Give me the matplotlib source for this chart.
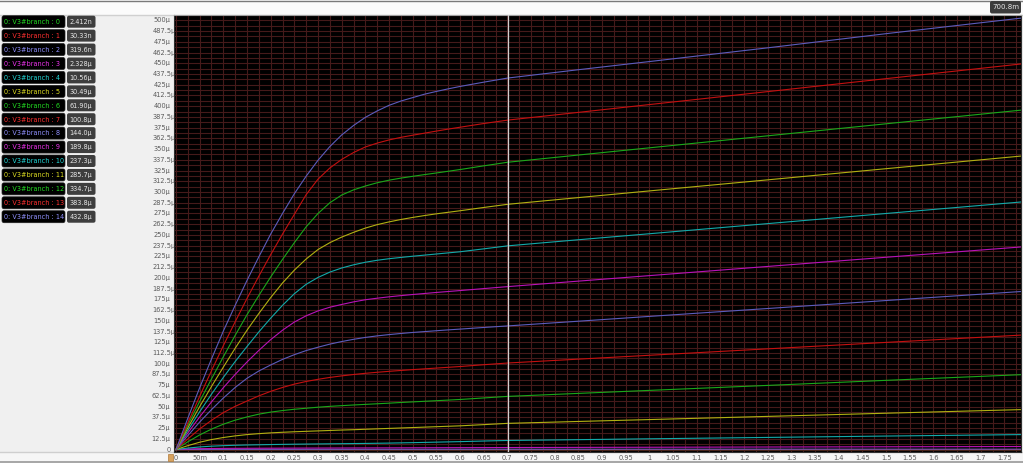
import matplotlib
matplotlib.use("Agg")
import matplotlib.pyplot as plt
from matplotlib.patches import FancyBboxPatch, Rectangle
from matplotlib.lines import Line2D
from matplotlib.transforms import Bbox, TransformedBbox, IdentityTransform, blended_transform_factory

# ---------------- data (currents in µA) ----------------
vds = [0, 0.025, 0.05, 0.075, 0.1, 0.125, 0.15, 0.175, 0.2, 0.225, 0.25, 0.275, 0.3, 0.325,
       0.35, 0.375, 0.4, 0.425, 0.45, 0.475, 0.5, 0.525, 0.55, 0.575, 0.6, 0.65, 0.7008,
       0.85, 1.0, 1.25, 1.5, 1.785]

i_b0 = [0, 0.0009, 0.0015, 0.0017, 0.0019, 0.0020, 0.0020, 0.0021, 0.0021, 0.0021, 0.0021,
        0.0022, 0.0022, 0.0022, 0.0022, 0.0023, 0.0023, 0.0023, 0.0023, 0.0023, 0.0023,
        0.0024, 0.0024, 0.0024, 0.0024, 0.0024, 0.002412, 0.0025, 0.0026, 0.0027, 0.0028, 0.0029]
i_b1 = [0, 0.011, 0.018, 0.020, 0.022, 0.023, 0.024, 0.0245, 0.025, 0.0255, 0.026, 0.0265,
        0.027, 0.0275, 0.028, 0.0282, 0.0285, 0.0288, 0.029, 0.0292, 0.0295, 0.0297, 0.0299,
        0.030, 0.0301, 0.0302, 0.03033, 0.031, 0.032, 0.033, 0.034, 0.035]
i_b2 = [0, 0.09, 0.15, 0.18, 0.20, 0.21, 0.22, 0.228, 0.235, 0.24, 0.245, 0.25, 0.255, 0.26,
        0.265, 0.268, 0.272, 0.276, 0.28, 0.284, 0.287, 0.291, 0.295, 0.299, 0.303, 0.311,
        0.3196, 0.33, 0.34, 0.36, 0.38, 0.40]
i_b3 = [0, 0.6, 1.0, 1.18, 1.3, 1.38, 1.45, 1.5, 1.55, 1.6, 1.65, 1.69, 1.72, 1.76, 1.8, 1.84,
        1.88, 1.92, 1.96, 2.0, 2.04, 2.08, 2.11, 2.15, 2.18, 2.25, 2.328, 2.5, 2.65, 2.95, 3.2, 3.5]
i_b4 = [0, 1.7, 3.0, 3.9, 4.5, 4.95, 5.3, 5.55, 5.8, 6.0, 6.2, 6.35, 6.5, 6.65, 6.8, 6.95, 7.1,
        7.3, 7.5, 7.75, 8.0, 8.3, 8.6, 8.9, 9.2, 9.9, 10.56, 11.5, 12.5, 14.1, 15.7, 17.4]
i_b5 = [0, 4.5, 8.5, 11.6, 14.0, 15.9, 17.4, 18.5, 19.4, 20.1, 20.7, 21.2, 21.7, 22.2, 22.7,
        23.1, 23.6, 24.1, 24.6, 25.1, 25.6, 26.1, 26.6, 27.1, 27.6, 29.0, 30.49, 32.7, 34.9,
        38.6, 42.3, 46.5]
i_b6 = [0, 9.0, 17.0, 23.8, 29.5, 34.2, 38.0, 41.2, 43.6, 45.4, 46.9, 48.1, 49.3, 50.3, 51.1,
        51.9, 52.6, 53.3, 54.0, 54.8, 55.5, 56.2, 56.9, 57.6, 58.3, 60.1, 61.90, 65.4, 68.9,
        74.7, 80.6, 87.2]
i_b7 = [0, 12.3, 24.0, 34.0, 43.0, 50.3, 56.5, 62.5, 67.8, 72.3, 76.2, 79.3, 81.8, 84.0, 85.8,
        87.4, 88.8, 90.0, 91.1, 92.1, 93.1, 94.0, 94.9, 95.8, 96.7, 98.8, 100.8, 105.3, 109.8,
        117.3, 124.8, 133.3]
i_b8 = [0, 16.2, 32.0, 46.5, 60.0, 72.3, 83.0, 91.5, 98.5, 105.0, 110.5, 115.3, 119.2, 122.8,
        125.8, 128.4, 130.6, 132.4, 133.9, 135.2, 136.4, 137.4, 138.4, 139.4, 140.3, 142.2,
        144.0, 149.5, 155.1, 164.3, 173.6, 184.1]
i_b9 = [0, 19.3, 38.0, 55.5, 72.0, 87.5, 102.0, 115.5, 128.0, 139.0, 148.5, 155.8, 161.5,
        165.8, 169.0, 172.0, 174.5, 176.3, 177.9, 179.3, 180.6, 181.8, 183.0, 184.1, 185.2,
        187.5, 189.8, 196.2, 202.6, 213.3, 224.0, 236.0]
i_b10 = [0, 22.3, 44.0, 64.5, 84.0, 102.5, 120.0, 137.0, 153.0, 168.0, 181.5, 192.5, 200.5,
         206.7, 211.5, 215.2, 218.2, 220.5, 222.3, 223.8, 225.2, 226.5, 227.8, 229.1, 230.4,
         233.8, 237.3, 244.4, 251.4, 263.2, 275.0, 288.4]
i_b11 = [0, 25.3, 50.0, 73.5, 96.0, 118.0, 139.0, 158.5, 177.0, 194.0, 209.0, 222.0, 233.0,
         241.0, 247.5, 253.0, 258.0, 262.0, 265.2, 268.0, 270.4, 272.6, 274.6, 276.4, 278.2,
         282.0, 285.7, 293.5, 301.3, 314.2, 327.2, 341.9]
i_b12 = [0, 28.3, 56.0, 82.3, 108.0, 133.0, 157.0, 179.5, 201.0, 221.5, 241.0, 259.5, 275.0,
         287.5, 296.5, 302.5, 307.0, 310.8, 313.8, 316.2, 318.3, 320.3, 322.2, 324.2, 326.2,
         330.5, 334.7, 343.1, 351.5, 365.5, 379.5, 395.4]
i_b13 = [0, 31.2, 62.0, 91.8, 121.0, 148.8, 176.0, 202.0, 227.0, 251.0, 274.0, 297.0, 315.0,
         328.0, 338.0, 346.0, 352.5, 357.0, 360.7, 363.7, 366.2, 368.6, 371.0, 373.3, 375.5,
         379.8, 383.8, 392.8, 401.9, 417.0, 432.1, 449.2]
i_b14 = [0, 36.5, 72.0, 105.5, 138.0, 168.0, 197.0, 224.5, 251.0, 275.0, 298.0, 318.5, 337.0,
         353.0, 366.5, 377.5, 387.0, 394.5, 401.0, 406.0, 410.0, 414.0, 417.2, 420.2, 423.0,
         428.0, 432.8, 442.5, 452.0, 468.0, 484.5, 502.6]

series = [i_b0, i_b1, i_b2, i_b3, i_b4, i_b5, i_b6, i_b7, i_b8, i_b9,
          i_b10, i_b11, i_b12, i_b13, i_b14]

legend_names = ["0: V3#branch : %d" % k for k in range(15)]
legend_values = ["2.412n", "30.33n", "319.6n", "2.328µ", "10.56µ", "30.49µ", "61.90µ",
                 "100.8µ", "144.0µ", "189.8µ", "237.3µ", "285.7µ", "334.7µ", "383.8µ", "432.8µ"]

x_tick_pos = [0.05 * k for k in range(36)]
x_tick_labels = ["0", "50m", "0.1", "0.15", "0.2", "0.25", "0.3", "0.35", "0.4", "0.45",
                 "0.5", "0.55", "0.6", "0.65", "0.7", "0.75", "0.8", "0.85", "0.9", "0.95",
                 "1", "1.05", "1.1", "1.15", "1.2", "1.25", "1.3", "1.35", "1.4", "1.45",
                 "1.5", "1.55", "1.6", "1.65", "1.7", "1.75"]
y_tick_pos = [12.5 * k for k in range(41)]
y_tick_labels = ["0", "12.5µ", "25µ", "37.5µ", "50µ", "62.5µ", "75µ", "87.5µ", "100µ",
                 "112.5µ", "125µ", "137.5µ", "150µ", "162.5µ", "175µ", "187.5µ", "200µ",
                 "212.5µ", "225µ", "237.5µ", "250µ", "262.5µ", "275µ", "287.5µ", "300µ",
                 "312.5µ", "325µ", "337.5µ", "350µ", "362.5µ", "375µ", "387.5µ", "400µ",
                 "412.5µ", "425µ", "437.5µ", "450µ", "462.5µ", "475µ", "487.5µ", "500µ"]

cursor_x = 0.7008
cursor_label = "700.8m"

# ---------------- styles ----------------
curve_colors = ["#1aa81a", "#c41010", "#5c5cbc", "#b812b8", "#12aaaa", "#b0b012"]
text_colors = ["#22dd22", "#ff3030", "#9090ff", "#ee33ee", "#22d8d8", "#dede22"]
grid_color = "#451a1a"
label_color = "#5a5a5a"
FS = 4.8
LFS = 4.7

W, H = 1023, 463
fig = plt.figure(figsize=(W / 100, H / 100), dpi=100, facecolor="#f0f0f0")
ID = IdentityTransform()


def prect(x0, y0, x1, y1, **kw):
    """rectangle in image pixel coords (y downwards)"""
    return Rectangle((x0, H - y1), x1 - x0, y1 - y0, transform=ID, **kw)


# background strips (behind the axes)
fig.patches.append(prect(0, 0, W, 14.5, facecolor="#fbfbfb", edgecolor="none", zorder=-5))
fig.patches.append(prect(0, 452, W, 461, facecolor="#f6f6f6", edgecolor="none", zorder=-5))
fig.patches.append(prect(0, 461, W, H, facecolor="#a8a8a8", edgecolor="none", zorder=-5))
fig.lines.append(Line2D([0, W], [H - 0.5, H - 0.5], transform=ID, color="#7a7a7a", lw=1.0, zorder=-4))
fig.lines.append(Line2D([0, W], [H - 14.5, H - 14.5], transform=ID, color="#d0d0d0", lw=1.0, zorder=-4))
fig.lines.append(Line2D([0, W], [H - 452, H - 452], transform=ID, color="#cfcfcf", lw=1.0, zorder=-4))

# ---------------- plot ----------------
ax_l, ax_r, ax_t, ax_b = 174, 1021, 15, 451.5
ax = fig.add_axes([ax_l / W, 1 - ax_b / H, (ax_r - ax_l) / W, (ax_b - ax_t) / H])
ax.set_facecolor("#000000")
ax.set_xlim(-0.0042, 1.785)
ax.set_ylim(-2.3, 505.2)

ax.set_xticks(x_tick_pos, x_tick_labels)
ax.set_xticks([0.025 + 0.05 * k for k in range(36)], minor=True)
ax.set_yticks(y_tick_pos, [])
ax.set_yticks([6.25 + 12.5 * k for k in range(41)], minor=True)
ax.tick_params(which="both", length=0)
ax.tick_params(axis="x", labelsize=FS, labelcolor=label_color, pad=2.4)
ax.grid(which="both", color=grid_color, lw=0.8)
ax.set_axisbelow(True)
for s in ax.spines.values():
    s.set_color("#303030")
    s.set_linewidth(0.8)
ax.spines["top"].set_color("#a0a0a0")

for k, ys in enumerate(series):
    ax.plot(vds, ys, color=curve_colors[k % 6], lw=0.8, solid_joinstyle="round", zorder=3)

ax.axvline(cursor_x, color="#d0d0d0", lw=0.9, zorder=4)

# y tick labels (clipped at the plot edge, like the original)
clip = TransformedBbox(Bbox.from_extents(0, 0, ax_l / W, 1), fig.transFigure)
ytr = blended_transform_factory(fig.transFigure, ax.transData)
for v, lab in zip(y_tick_pos, y_tick_labels):
    if len(lab) >= 6:
        t = fig.text(152.5 / W, v, lab, transform=ytr, ha="left", va="center",
                     fontsize=FS, color=label_color)
    else:
        t = fig.text(170.5 / W, v, lab, transform=ytr, ha="right", va="center",
                     fontsize=FS, color=label_color)
    t.set_clip_on(True)
    t.set_clip_box(clip)

# small orange handle at the x origin
fig.patches.append(prect(168, 454, 172.5, 461, facecolor="#d9a35e", edgecolor="#b07a3a", lw=0.5))

# cursor value box
fig.patches.append(FancyBboxPatch((990, H - 13.5), 31, 12.5, transform=ID,
                                  boxstyle="round,pad=0,rounding_size=2",
                                  facecolor="#3c3c3c", edgecolor="none"))
fig.text(1005.5, H - 7.3, cursor_label, transform=ID, ha="center", va="center",
         fontsize=5.0, color="#e6e6e6")

# ---------------- legend ----------------
for k in range(15):
    cy = 21.7 + 13.93 * k
    fig.patches.append(FancyBboxPatch((2, H - cy - 6), 63, 12, transform=ID,
                                      boxstyle="round,pad=0,rounding_size=2",
                                      facecolor="#000000", edgecolor="#202020", lw=0.5))
    fig.patches.append(FancyBboxPatch((67, H - cy - 6), 28.5, 12, transform=ID,
                                      boxstyle="round,pad=0,rounding_size=2",
                                      facecolor="#3e3e3e", edgecolor="none"))
    fig.text(4.5, H - cy - 0.3, legend_names[k], transform=ID, ha="left", va="center",
             fontsize=LFS, color=text_colors[k % 6])
    fig.text(69.5, H - cy - 0.3, legend_values[k], transform=ID, ha="left", va="center",
             fontsize=LFS, color="#e8e8e8")

fig.savefig("out.png", dpi=100, facecolor=fig.get_facecolor())
